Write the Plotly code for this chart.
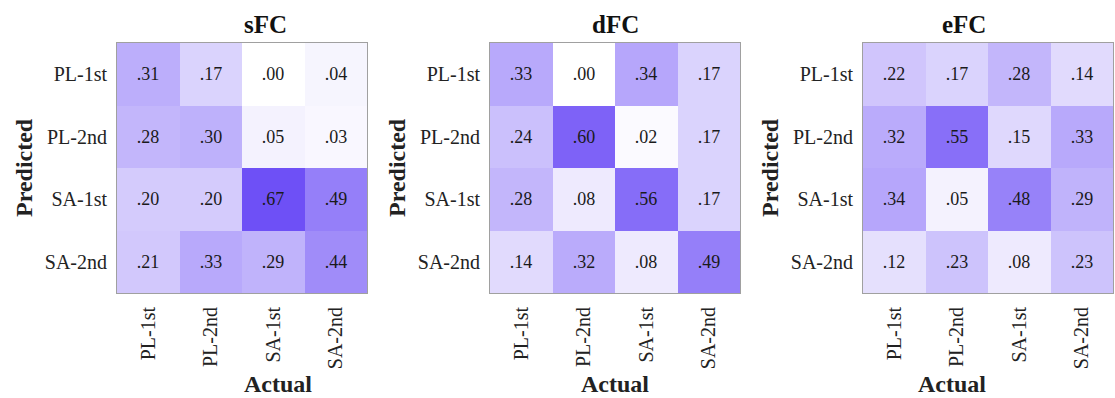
import plotly.graph_objects as go

categories = ["PL-1st", "PL-2nd", "SA-1st", "SA-2nd"]
titles = ["sFC", "dFC", "eFC"]

sfc = [
    [0.31, 0.17, 0.00, 0.04],
    [0.28, 0.30, 0.05, 0.03],
    [0.20, 0.20, 0.67, 0.49],
    [0.21, 0.33, 0.29, 0.44],
]
dfc = [
    [0.33, 0.00, 0.34, 0.17],
    [0.24, 0.60, 0.02, 0.17],
    [0.28, 0.08, 0.56, 0.17],
    [0.14, 0.32, 0.08, 0.49],
]
efc = [
    [0.22, 0.17, 0.28, 0.14],
    [0.32, 0.55, 0.15, 0.33],
    [0.34, 0.05, 0.48, 0.29],
    [0.12, 0.23, 0.08, 0.23],
]
matrices = [sfc, dfc, efc]

W, H = 1115, 398
x_px = [(117, 367), (490, 740), (863, 1113)]
y_px = (43, 293)
FONT = "Liberation Serif"
colorscale = [[0, "rgb(255,255,255)"], [1, "rgb(104,72,246)"]]


def fmt(v):
    s = f"{v:.2f}"
    return s[1:] if s.startswith("0") else s


fig = go.Figure()
for i, (m, t) in enumerate(zip(matrices, titles)):
    sfx = "" if i == 0 else str(i + 1)
    fig.add_trace(go.Heatmap(
        z=m, x=categories, y=categories,
        text=[[fmt(v) for v in row] for row in m],
        texttemplate="%{text}",
        textfont=dict(family=FONT, size=18, color="#1a1a1a"),
        colorscale=colorscale, zmin=0, zmax=0.7, showscale=False,
        xaxis="x" + sfx, yaxis="y" + sfx, xgap=0, ygap=0,
    ))
    x0, x1 = x_px[i]
    axcommon = dict(showline=True, linecolor="rgb(160,160,160)", linewidth=1, mirror=True,
                    ticks="", showgrid=False, zeroline=False, ticklabelstandoff=5,
                    tickfont=dict(family=FONT, size=20, color="#222"))
    fig.update_layout(**{
        "xaxis" + sfx: dict(domain=[x0 / W, x1 / W], anchor="y" + sfx, tickangle=-90,
                            **axcommon),
        "yaxis" + sfx: dict(domain=[1 - y_px[1] / H, 1 - y_px[0] / H], anchor="x" + sfx,
                            autorange="reversed", **axcommon),
    })
    fig.add_annotation(text=f"<b>{t}</b>", x=(x0 + x1) / 2 / W, y=1 - 24 / H,
                       xref="paper", yref="paper", showarrow=False, yanchor="middle",
                       font=dict(family=FONT, size=25, color="#111"))
    fig.add_annotation(text="<b>Actual</b>", x=(x0 + x1) / 2 / W, y=1 - 384 / H,
                       xref="paper", yref="paper", showarrow=False, yanchor="middle",
                       font=dict(family=FONT, size=24, color="#222"))
    fig.add_annotation(text="<b>Predicted</b>", x=(x0 - 93) / W, y=1 - (y_px[0] + y_px[1]) / 2 / H,
                       xref="paper", yref="paper", showarrow=False, textangle=-90,
                       xanchor="center", yanchor="middle",
                       font=dict(family=FONT, size=24, color="#222"))

fig.update_layout(width=W, height=H, margin=dict(l=0, r=0, t=0, b=0),
                  paper_bgcolor="white", plot_bgcolor="white")
fig.write_html("out.html", config={"displayModeBar": False},
               post_script="document.body.style.margin='0px';document.body.style.overflow='hidden';")
